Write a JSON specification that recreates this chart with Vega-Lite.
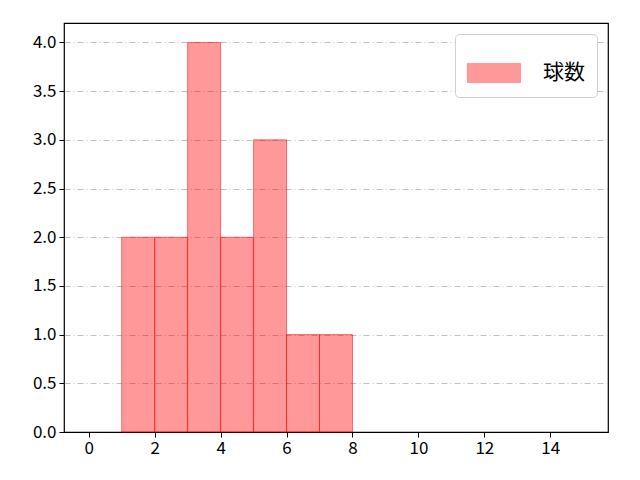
{
  "$schema": "https://vega.github.io/schema/vega-lite/v6.json",
  "width": 544,
  "height": 409,
  "autosize": "none",
  "padding": {"left": 64, "top": 23, "right": 32, "bottom": 48},
  "background": "white",
  "config": {
    "font": "Noto Sans CJK JP",
    "view": {"stroke": "black", "strokeWidth": 1.2},
    "axis": {
      "labelFont": "Noto Sans CJK JP",
      "labelFontSize": 17,
      "labelColor": "black",
      "tickColor": "black",
      "tickSize": 5,
      "domain": false,
      "titleFontSize": 0
    }
  },
  "data": {
    "values": [
      {"start": 1, "end": 2, "count": 2, "label": "球数"},
      {"start": 2, "end": 3, "count": 2, "label": "球数"},
      {"start": 3, "end": 4, "count": 4, "label": "球数"},
      {"start": 4, "end": 5, "count": 2, "label": "球数"},
      {"start": 5, "end": 6, "count": 3, "label": "球数"},
      {"start": 6, "end": 7, "count": 1, "label": "球数"},
      {"start": 7, "end": 8, "count": 1, "label": "球数"}
    ]
  },
  "mark": {
    "type": "rect",
    "fillOpacity": 0.4,
    "stroke": "#ff0000",
    "strokeOpacity": 0.5,
    "strokeWidth": 1
  },
  "encoding": {
    "x": {
      "field": "start",
      "type": "quantitative",
      "title": null,
      "scale": {"domain": [-0.75, 15.75], "nice": false, "zero": false},
      "axis": {"values": [0, 2, 4, 6, 8, 10, 12, 14], "grid": false, "labelPadding": 3}
    },
    "x2": {"field": "end"},
    "y": {
      "field": "count",
      "type": "quantitative",
      "title": null,
      "scale": {"domain": [0, 4.2], "nice": false},
      "axis": {
        "values": [0, 0.5, 1, 1.5, 2, 2.5, 3, 3.5, 4],
        "format": ".1f",
        "grid": true,
        "gridColor": "#b0b0b0",
        "gridDash": [6, 3, 1, 3],
        "gridWidth": 0.8,
        "gridOpacity": {"condition": {"test": "datum.value === 0", "value": 0}, "value": 1},
        "labelPadding": 3
      }
    },
    "y2": {"datum": 0},
    "color": {
      "field": "label",
      "type": "nominal",
      "scale": {"domain": ["球数"], "range": ["#ff0000"]},
      "legend": {
        "title": null,
        "orient": "top-right",
        "offset": 11,
        "symbolType": "M-1,-0.36H1V0.36H-1Z",
        "symbolSize": 2809,
        "symbolOpacity": 0.4,
        "symbolStrokeColor": "#ff0000",
        "symbolStrokeWidth": 1,
        "labelFontSize": 21,
        "labelFont": "Noto Sans CJK JP",
        "labelOffset": 22,
        "padding": 12,
        "strokeColor": "#d0d0d0",
        "fillColor": "white",
        "cornerRadius": 4
      }
    }
  }
}
